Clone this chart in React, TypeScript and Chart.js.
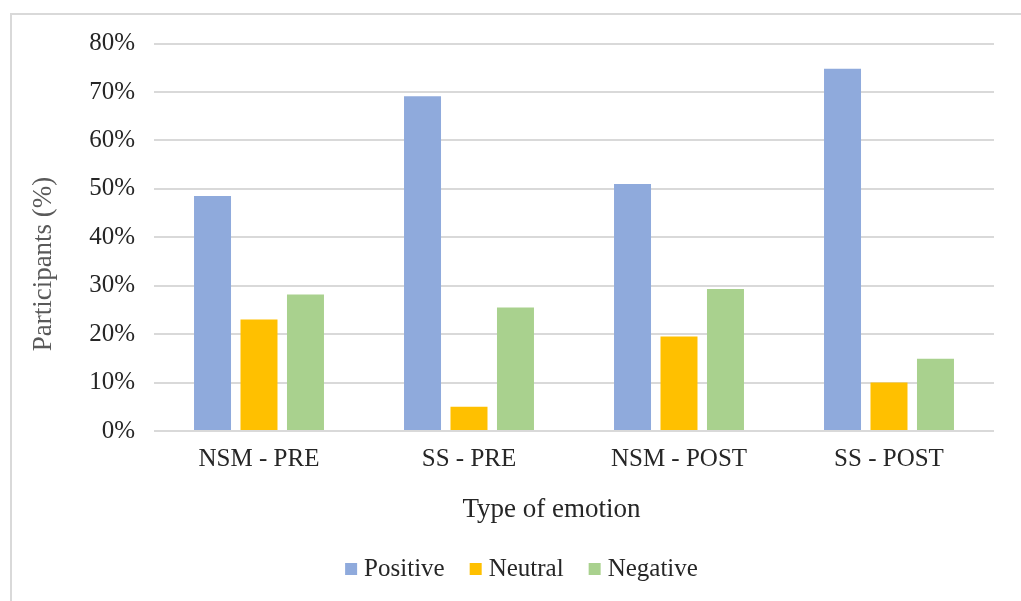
import React, { useEffect, useRef } from 'react';
import { Chart, registerables } from 'chart.js';

Chart.register(...registerables);

const categories = ['NSM - PRE', 'SS - PRE', 'NSM - POST', 'SS - POST'];
const seriesLabels = ['Positive', 'Neutral', 'Negative'];
const positiveValues = [48.5, 69.1, 51.0, 74.8];
const neutralValues = [23.0, 5.0, 19.5, 10.0];
const negativeValues = [28.2, 25.5, 29.3, 14.9];
const seriesColors = ['#8FAADC', '#FFC000', '#A9D18E'];
const yMin = 0;
const yMax = 80;
const yStep = 10;
const yAxisTitle = 'Participants (%)';
const xAxisTitle = 'Type of emotion';

const FONT = '"Liberation Serif", "Times New Roman", serif';

const excelTextPlugin = {
  id: 'excelText',
  afterDraw(chart: any) {
    const ctx = chart.ctx as CanvasRenderingContext2D;
    // Y axis title
    ctx.save();
    ctx.font = `27px ${FONT}`;
    ctx.fillStyle = '#595959';
    ctx.textAlign = 'center';
    ctx.textBaseline = 'middle';
    ctx.translate(44, 264);
    ctx.rotate(-Math.PI / 2);
    ctx.fillText(yAxisTitle, 0, 0);
    ctx.restore();

    // X axis title
    ctx.save();
    ctx.font = `27px ${FONT}`;
    ctx.fillStyle = '#262626';
    ctx.textAlign = 'center';
    ctx.textBaseline = 'middle';
    ctx.fillText(xAxisTitle, 551.5, 510);
    ctx.restore();

    // Legend
    ctx.save();
    ctx.font = `25px ${FONT}`;
    ctx.textAlign = 'left';
    ctx.textBaseline = 'middle';
    const datasets = chart.data.datasets;
    const box = 12;
    const gap = 7;
    const itemGap = 25;
    const widths = datasets.map((d: any) => ctx.measureText(d.label).width);
    let total = 0;
    widths.forEach((w: number, i: number) => {
      total += box + gap + w + (i < widths.length - 1 ? itemGap : 0);
    });
    let x = 521.5 - total / 2;
    datasets.forEach((d: any, i: number) => {
      ctx.fillStyle = d.backgroundColor;
      ctx.fillRect(x, 563, box, box);
      ctx.fillStyle = '#262626';
      ctx.fillText(d.label, x + box + gap, 569);
      x += box + gap + widths[i] + itemGap;
    });
    ctx.restore();
  },
};

export default function App() {
  const canvasRef = useRef<HTMLCanvasElement | null>(null);

  useEffect(() => {
    if (!canvasRef.current) return;
    const valuesList = [positiveValues, neutralValues, negativeValues];
    const chart = new Chart(canvasRef.current, {
      type: 'bar',
      data: {
        labels: categories,
        datasets: seriesLabels.map((label, i) => ({
          label,
          data: valuesList[i],
          backgroundColor: seriesColors[i],
          borderWidth: 0,
          categoryPercentage: 0.664,
          barPercentage: 0.796,
        })),
      },
      options: {
        responsive: false,
        animation: false,
        layout: { padding: { left: 0, right: 27, top: 43.5, bottom: 0 } },
        plugins: {
          legend: { display: false },
          tooltip: { enabled: false },
          title: { display: false },
        },
        scales: {
          x: {
            grid: { display: false, drawTicks: false },
            border: { display: false },
            ticks: {
              padding: 13,
              color: '#262626',
              font: { family: FONT, size: 25 },
              maxRotation: 0,
            },
            afterFit: (scale: any) => {
              scale.height = 170;
            },
          },
          y: {
            min: yMin,
            max: yMax,
            grid: { color: '#D9D9D9', lineWidth: 2, drawTicks: false },
            border: { display: false },
            ticks: {
              stepSize: yStep,
              padding: 19,
              color: '#262626',
              font: { family: FONT, size: 25 },
              callback: (v: any) => `${v}%`,
            },
            afterFit: (scale: any) => {
              scale.width = 154;
            },
          },
        },
      },
      plugins: [excelTextPlugin],
    });
    return () => chart.destroy();
  }, []);

  return (
    <div
      style={{
        position: 'fixed',
        left: 0,
        top: 0,
        width: 1021,
        height: 601,
        overflow: 'hidden',
        background: '#ffffff',
      }}
    >
      <div
        style={{
          position: 'absolute',
          left: 10,
          top: 13,
          width: 1100,
          height: 700,
          border: '2px solid #D9D9D9',
          boxSizing: 'border-box',
        }}
      />
      <canvas
        ref={canvasRef}
        width={1021}
        height={601}
        style={{ position: 'absolute', left: 0, top: 0, width: 1021, height: 601 }}
      />
    </div>
  );
}
